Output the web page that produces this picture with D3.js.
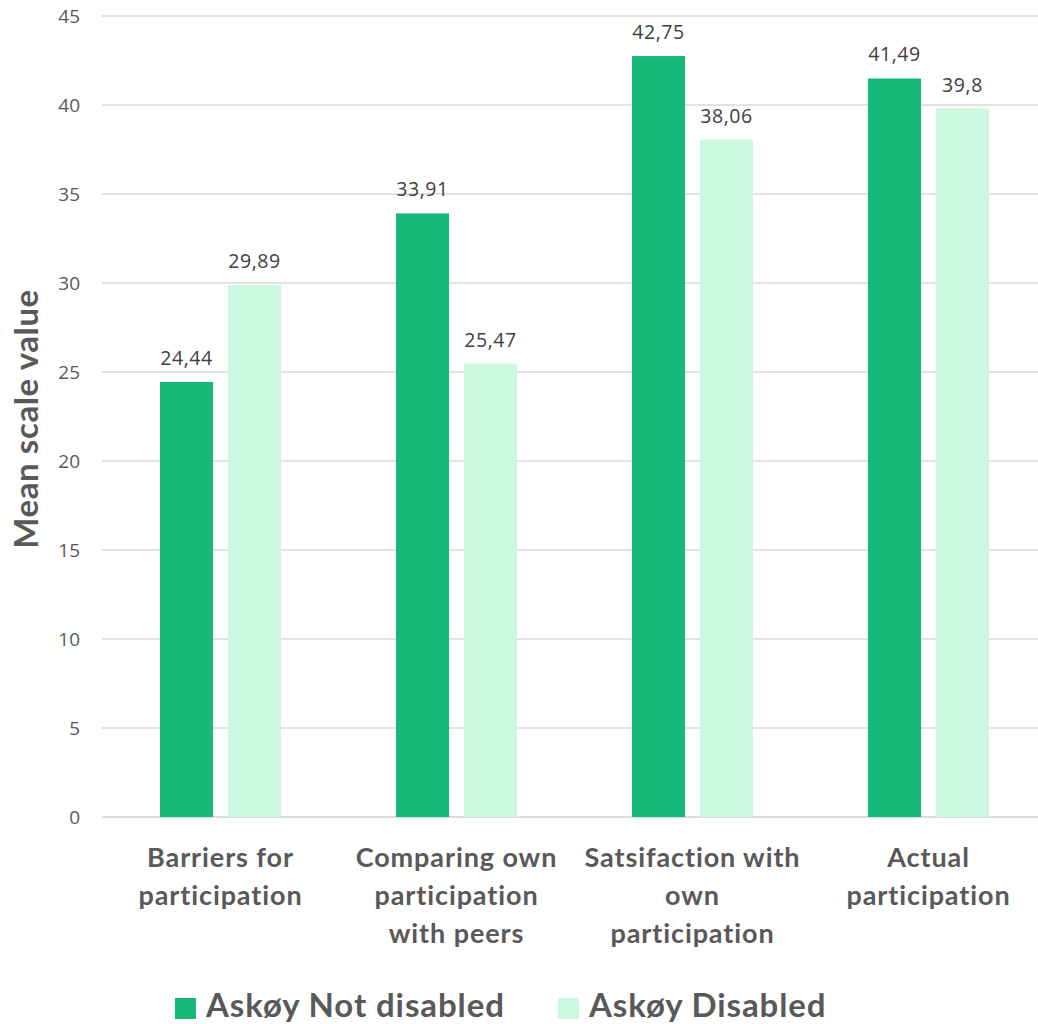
<!DOCTYPE html>
<html><head><meta charset="utf-8">
<script src="https://cdn.jsdelivr.net/npm/d3@7"></script>
<style>body{margin:0;background:#fff}</style>
</head><body>
<svg id="c" width="1038" height="1024"></svg>
<script>
const categories = [["Barriers for","participation"],["Comparing own","participation","with peers"],["Satsifaction with","own","participation"],["Actual","participation"]];
const seriesNames = ["Askøy Not disabled","Askøy Disabled"];
const notDisabled = [24.44, 33.91, 42.75, 41.49];
const disabled = [29.89, 25.47, 38.06, 39.8];
const labelsNotDisabled = ["24,44","33,91","42,75","41,49"];
const labelsDisabled = ["29,89","25,47","38,06","39,8"];
const yTicks = [0,5,10,15,20,25,30,35,40,45];
const colors = ["#17b97a","#ccf8e1"];

const svg = d3.select("#c");
const y = d3.scaleLinear().domain([0,45]).range([817,16]);
const x0 = d3.scaleBand().domain(d3.range(4)).range([102.5,1046.5]);
const x1 = d3.scaleBand().domain([0,1]).range([-60.5,60.5]).paddingInner(0.22);

svg.append("g").selectAll("line").data(yTicks).join("line")
  .attr("x1",102).attr("x2",1038).attr("y1",d=>y(d)).attr("y2",d=>y(d))
  .attr("stroke",d=>d===0?"#d0d0d0":"#d9d9d9").attr("stroke-width",1.5);

svg.append("g").selectAll("text").data(yTicks).join("text")
  .attr("x",80).attr("y",d=>y(d)).attr("dy","0.35em").attr("text-anchor","end")
  .attr("font-family","Open Sans").attr("font-size",19).attr("fill","#595959").text(d=>d);

svg.append("text").attr("transform","translate(38,419) rotate(-90)")
  .attr("text-anchor","middle").attr("font-family","Lato").attr("font-weight","bold")
  .attr("font-size",33).attr("letter-spacing",0.6).attr("fill","#595959").text("Mean scale value");

const series = [notDisabled, disabled];
const labels = [labelsNotDisabled, labelsDisabled];
series.forEach((vals,s)=>{
  const g = svg.append("g");
  g.selectAll("rect").data(vals).join("rect")
    .attr("x",(d,i)=>x0(i)+x0.bandwidth()/2+x1(s))
    .attr("width",x1.bandwidth())
    .attr("y",d=>y(d)).attr("height",d=>y(0)-y(d))
    .attr("fill",colors[s]);
  g.selectAll("text").data(vals).join("text")
    .attr("x",(d,i)=>x0(i)+x0.bandwidth()/2+x1(s)+x1.bandwidth()/2)
    .attr("y",d=>y(d)-17)
    .attr("text-anchor","middle").attr("font-family","Open Sans").attr("font-size",19.5)
    .attr("letter-spacing",0.6).attr("fill","#404040").text((d,i)=>labels[s][i]);
});

categories.forEach((lines,i)=>{
  const t = svg.append("text").attr("text-anchor","middle")
    .attr("font-family","Lato").attr("font-weight","bold").attr("font-size",27)
    .attr("letter-spacing",0.9).attr("fill","#595959");
  lines.forEach((l,j)=>{
    t.append("tspan").attr("x",x0(i)+x0.bandwidth()/2).attr("y",867+j*38).text(l);
  });
});

const legend = svg.append("g");
const legX = [175, 558];
seriesNames.forEach((n,i)=>{
  legend.append("rect").attr("x",legX[i]).attr("y",998).attr("width",21).attr("height",21).attr("fill",colors[i]);
  legend.append("text").attr("x",legX[i]+31).attr("y",1017)
    .attr("font-family","Lato").attr("font-weight","bold").attr("font-size",33)
    .attr("letter-spacing",0.9).attr("fill","#595959").text(n);
});
</script>
</body></html>
